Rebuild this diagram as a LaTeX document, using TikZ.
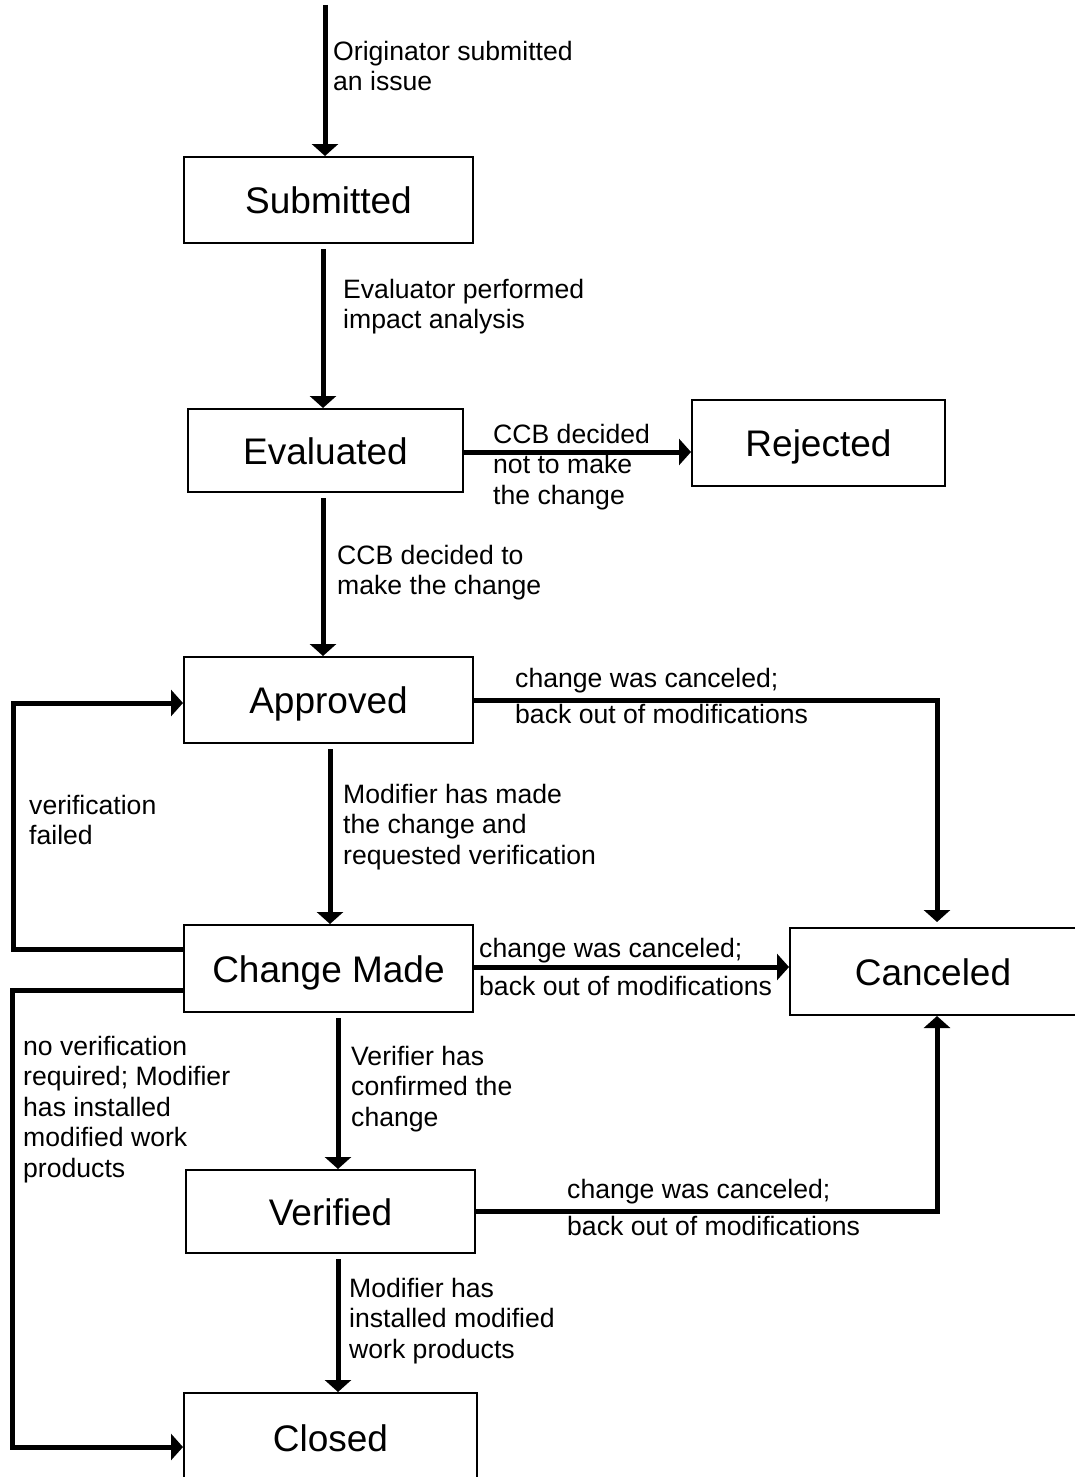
\documentclass[tikz,border=0pt]{standalone}
\usepackage{fontspec}
\setmainfont{Liberation Sans}
\usetikzlibrary{arrows.meta,calc}
\begin{document}
\begin{tikzpicture}[x=1pt,y=-1pt,
  state/.style={draw,line width=2pt,inner sep=0pt,text height=31pt,text depth=4pt,font=\fontsize{37}{44}\selectfont},
  conn/.style={line width=5pt},
  arr/.style={conn,-{Triangle[width=26pt,length=12pt]}},
  lbl/.style={anchor=north west,align=left,inner sep=0pt,font=\fontsize{26.6}{30.5}\selectfont}]
\useasboundingbox (0,0) rectangle (1074,1477);
% states
\node[state,minimum width=289pt,minimum height=86pt] (sub) at (328.5,200) {Submitted};
\node[state,minimum width=275pt,minimum height=83pt] (eva) at (325.5,450.5) {Evaluated};
\node[state,minimum width=253pt,minimum height=86pt] (rej) at (818.5,443) {Rejected};
\node[state,minimum width=289pt,minimum height=86pt] (app) at (328.5,700) {Approved};
\node[state,minimum width=289pt,minimum height=87pt] (cm) at (328.5,968.5) {Change Made};
\node[state,minimum width=286pt,minimum height=87pt] (can) at (933,971.5) {Canceled};
\node[state,minimum width=289pt,minimum height=83pt] (ver) at (330.5,1211.5) {Verified};
\node[state,minimum width=293pt,minimum height=89pt] (clo) at (330.5,1437.5) {Closed};
\coordinate (start) at (325,5);
% connectors
\draw[arr] (start) -- (start |- sub.north);
\draw[arr] ([xshift=-5.5pt,yshift=-5pt]sub.south) -- ([xshift=-2.5pt]eva.north);
\draw[arr] ([yshift=-1.5pt]eva.east) -- ([yshift=-1.5pt]eva.east -| rej.west);
\draw[arr] ([xshift=-2.5pt,yshift=-5pt]eva.south) -- ([xshift=-5.5pt]app.north);
\draw[arr] (app.east) -- ([xshift=4pt]app.east -| can.north) -- ([xshift=4pt,yshift=5pt]can.north);
\draw[arr] ([xshift=1.5pt,yshift=-5pt]app.south) -- ([xshift=1.5pt]cm.north);
\draw[arr] ([yshift=19.5pt]cm.west) -- ++(-170,0) |- ([yshift=-3pt]app.west);
\draw[arr] ([yshift=-21.5pt]cm.west) -- ++(-171,0) |- ([yshift=-9.5pt]clo.west);
\draw[arr] ([yshift=1.5pt]cm.east) -- ([yshift=1.5pt]cm.east -| can.west);
\draw[arr] ([xshift=9.5pt,yshift=-5pt]cm.south) -- ([xshift=7.5pt]ver.north);
\draw[arr] (ver.east) -- ([xshift=4pt]ver.east -| can.south) -- ([xshift=4pt]can.south);
\draw[arr] ([xshift=7.5pt,yshift=-5pt]ver.south) -- ([xshift=7.5pt]clo.north);
% labels
\node[lbl] (t1) at (333,41) {Originator submitted\\an issue};
\node[lbl] (t2) at (343,279) {Evaluator performed\\impact analysis};
\node[lbl] (t3) at (493,424) {CCB decided\\not to make\\the change};
\node[lbl] (t4) at (337,545) {CCB decided to\\make the change};
\node[lbl,font=\fontsize{26.6}{36}\selectfont] (t5) at (515,668) {change was canceled;\\back out of modifications};
\node[lbl] (t6) at (29,795) {verification\\failed};
\node[lbl] (t7) at (343,784) {Modifier has made\\the change and\\requested verification};
\node[lbl,font=\fontsize{26.6}{38}\selectfont] (t8) at (479,938) {change was canceled;\\back out of modifications};
\node[lbl] (t9) at (23,1036) {no verification\\required; Modifier\\has installed\\modified work\\products};
\node[lbl] (t10) at (351,1046) {Verifier has\\confirmed the\\change};
\node[lbl,font=\fontsize{26.6}{37}\selectfont] (t11) at (567,1179) {change was canceled;\\back out of modifications};
\node[lbl] (t12) at (349,1278) {Modifier has\\installed modified\\work products};
\end{tikzpicture}
\end{document}
